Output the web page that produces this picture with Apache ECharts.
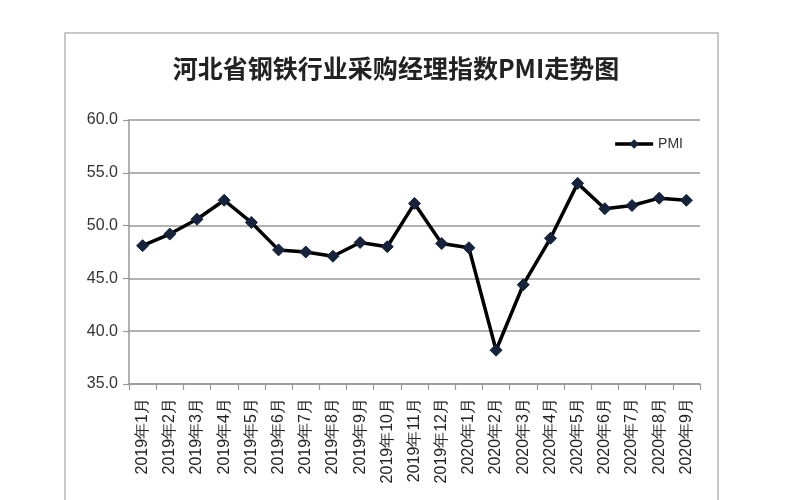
<!DOCTYPE html>
<html>
<head>
<meta charset="utf-8">
<script src="https://cdn.jsdelivr.net/npm/echarts@6/dist/echarts.min.js"></script>
<style>html,body{margin:0;padding:0;background:#fff;}#c{width:800px;height:500px;}</style>
</head>
<body>
<div id="c"></div>
<script>
var categories = ['2019年1月','2019年2月','2019年3月','2019年4月','2019年5月','2019年6月','2019年7月','2019年8月','2019年9月','2019年10月','2019年11月','2019年12月','2020年1月','2020年2月','2020年3月','2020年4月','2020年5月','2020年6月','2020年7月','2020年8月','2020年9月'];
var pmiValues = [48.1, 49.2, 50.6, 52.4, 50.3, 47.7, 47.5, 47.1, 48.4, 48.0, 52.1, 48.3, 47.9, 38.2, 44.4, 48.8, 54.0, 51.6, 51.9, 52.6, 52.4];
var titleText = '河北省钢铁行业采购经理指数PMI走势图';
var seriesName = 'PMI';

var chart = echarts.init(document.getElementById('c'));
chart.setOption({
  backgroundColor: '#fff',
  animation: false,
  graphic: [{
    type: 'rect',
    shape: {x: 65, y: 33, width: 653, height: 480},
    style: {fill: 'none', stroke: '#b5b5b5', lineWidth: 1.5}
  }],
  title: {
    text: titleText,
    left: 391,
    textAlign: 'center',
    top: 51,
    textStyle: {fontFamily: 'Noto Sans CJK SC', fontSize: 25, fontWeight: 'bold', color: '#222'}
  },
  legend: {
    data: [seriesName],
    right: 112,
    top: 132,
    itemWidth: 38,
    itemHeight: 12,
    itemGap: 6,
    lineStyle: {width: 3.5, color: '#000'},
    textStyle: {fontFamily: 'Liberation Sans', fontSize: 14, color: '#333'}
  },
  grid: {left: 129, right: 100, top: 120, bottom: 116, containLabel: false},
  xAxis: {
    type: 'category',
    data: categories,
    boundaryGap: true,
    axisLine: {lineStyle: {color: '#999', width: 1.5}},
    axisTick: {show: true, alignWithLabel: false, length: 6, lineStyle: {color: '#999', width: 1.2}},
    axisLabel: {rotate: 90, interval: 0, fontFamily: 'Liberation Sans', fontSize: 16, color: '#222', margin: 14}
  },
  yAxis: {
    type: 'value',
    min: 35, max: 60, interval: 5,
    axisLine: {show: true, lineStyle: {color: '#999', width: 1.5}},
    axisTick: {show: true, length: 6, lineStyle: {color: '#999', width: 1.2}},
    axisLabel: {formatter: function(v){return v.toFixed(1);}, fontFamily: 'Liberation Sans', fontSize: 16, color: '#333', margin: 11},
    splitLine: {lineStyle: {color: '#999', width: 1.5}}
  },
  series: [{
    name: seriesName,
    type: 'line',
    data: pmiValues,
    symbol: 'diamond',
    symbolSize: 12,
    itemStyle: {color: '#17223b', borderColor: '#17223b'},
    lineStyle: {color: '#000', width: 3.5}
  }]
});
</script>
</body>
</html>
